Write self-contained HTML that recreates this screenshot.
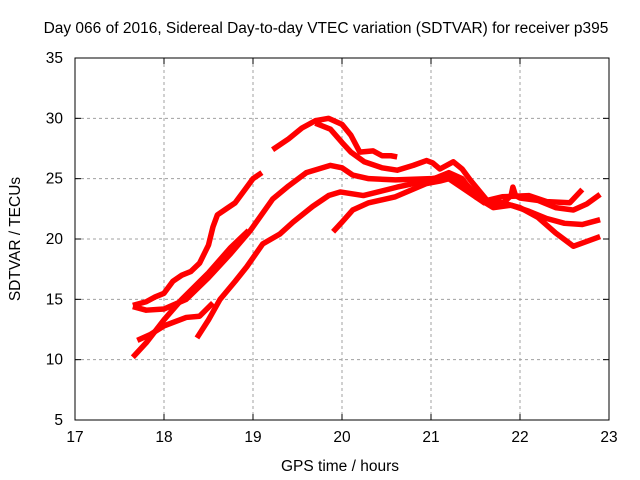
<!DOCTYPE html>
<html><head><meta charset="utf-8"><style>
body{margin:0;background:#fff}
svg{display:block;font-family:"Liberation Sans",sans-serif;font-size:15.5px}
</style></head><body>
<svg id="chart" width="640" height="480">
<text x="326" y="33" text-anchor="middle">Day 066 of 2016, Sidereal Day-to-day VTEC variation (SDTVAR) for receiver p395</text>
<text x="340" y="471" text-anchor="middle">GPS time / hours</text>
<text transform="translate(20,239) rotate(-90)" text-anchor="middle">SDTVAR / TECUs</text>
<g id="grid"></g><g id="series"></g>
<rect x="75" y="58" width="534" height="362" fill="none" stroke="#000" stroke-width="1"/>
</svg>
<script>
const xTicks=[17,18,19,20,21,22,23];
const yTicks=[5,10,15,20,25,30,35];
const seriesA=[[17.65,14.5],[17.8,14.8],[17.9,15.2],[18.0,15.5],[18.1,16.5],[18.2,17],[18.3,17.3],[18.4,18],[18.5,19.5],[18.55,21],[18.6,22],[18.7,22.5],[18.8,23],[18.9,24],[19.0,25],[19.1,25.5]];
const seriesB1=[[19.22,27.4],[19.4,28.3],[19.55,29.2],[19.7,29.8],[19.85,30],[20.0,29.5],[20.1,28.6],[20.2,27.2],[20.35,27.3],[20.45,26.9],[20.55,26.9],[20.62,26.8]];
const seriesB2=[[19.7,29.6],[19.87,29.1],[20.0,28],[20.1,27.2],[20.25,26.4],[20.45,25.9],[20.62,25.7],[20.8,26.1],[20.95,26.5],[21.02,26.3],[21.1,25.8],[21.25,26.4],[21.35,25.8],[21.44,24.9],[21.63,23.2],[21.8,23.5],[22.1,23.6],[22.3,23.1],[22.56,23],[22.7,24.1]];
const seriesC=[[17.65,14.4],[17.8,14.1],[18.0,14.2],[18.25,15],[18.5,16.8],[18.75,18.8],[18.97,20.7],[19.22,23.3],[19.4,24.4],[19.6,25.5],[19.87,26.1],[20.0,25.9],[20.12,25.3],[20.3,25],[20.6,24.9],[21,25],[21.2,25.2],[21.4,24.5],[21.6,23],[21.8,22.9],[21.9,23.6],[21.92,24.3],[21.95,23.6],[22.0,23.4],[22.2,23.2],[22.4,22.6],[22.6,22.4],[22.75,22.9],[22.9,23.7]];
const seriesD=[[17.7,11.6],[17.85,12.1],[18.0,12.8],[18.25,13.5],[18.4,13.6],[18.55,14.7]];
const seriesE=[[17.65,10.2],[17.8,11.4],[18.0,13.3],[18.2,15],[18.35,16.1],[18.5,17.2],[18.75,19.3],[18.95,20.7]];
const seriesF=[[18.37,11.8],[18.5,13.3],[18.63,15],[18.8,16.5],[18.93,17.7],[19.11,19.6],[19.3,20.4],[19.45,21.4],[19.67,22.7],[19.85,23.6],[19.98,23.9],[20.24,23.6],[20.62,24.3],[21,24.9],[21.2,25.5],[21.35,25],[21.5,23.5],[21.7,22.6],[21.9,22.8],[22.1,22.3],[22.3,21.7],[22.5,21.3],[22.7,21.2],[22.9,21.6]];
const seriesG=[[19.9,20.6],[20.0,21.4],[20.12,22.4],[20.3,23],[20.6,23.5],[20.95,24.6],[21.1,24.8],[21.2,25],[21.4,24],[21.6,23],[21.8,23],[22.0,22.6],[22.2,21.8],[22.4,20.5],[22.6,19.4],[22.75,19.8],[22.9,20.2]];
const allSeries=[seriesA,seriesB1,seriesB2,seriesC,seriesD,seriesE,seriesF,seriesG];
const ns="http://www.w3.org/2000/svg";
const X=v=>75+(v-17)*534/6;
const Y=v=>420-(v-5)*362/30;
const grid=document.getElementById('grid');
function mk(tag,attrs,parent){const e=document.createElementNS(ns,tag);for(const k in attrs)e.setAttribute(k,attrs[k]);parent.appendChild(e);return e;}
xTicks.forEach(t=>{
  const x=X(t);
  if(t>17&&t<23){const l=mk('line',{x1:x,x2:x,y1:58,y2:420,stroke:'#a0a0a0','stroke-dasharray':'3,3'},grid);
  
  }
  mk('line',{x1:x,x2:x,y1:420,y2:414,stroke:'#000'},grid);
  mk('line',{x1:x,x2:x,y1:58,y2:64,stroke:'#000'},grid);
  const tx=mk('text',{x:x,y:442,'text-anchor':'middle'},grid);tx.textContent=t;
  
  
});
yTicks.forEach(t=>{
  const y=Y(t);
  if(t>5&&t<35){const l=mk('line',{x1:75,x2:609,y1:y,y2:y,stroke:'#a0a0a0','stroke-dasharray':'3,3'},grid);
  
  }
  mk('line',{x1:75,x2:81,y1:y,y2:y,stroke:'#000'},grid);
  mk('line',{x1:603,x2:609,y1:y,y2:y,stroke:'#000'},grid);
  const tx=mk('text',{x:63,y:y+5,'text-anchor':'end'},grid);tx.textContent=t;
  
  
});
const sg=document.getElementById('series');
allSeries.forEach((s,i)=>{
  const p=mk('polyline',{points:s.map(d=>X(d[0])+','+Y(d[1])).join(' '),fill:'none',stroke:'#ff0000','stroke-width':5.5,'stroke-linejoin':'round','stroke-linecap':'butt'},sg);
  
  
});
</script>
</body></html>
